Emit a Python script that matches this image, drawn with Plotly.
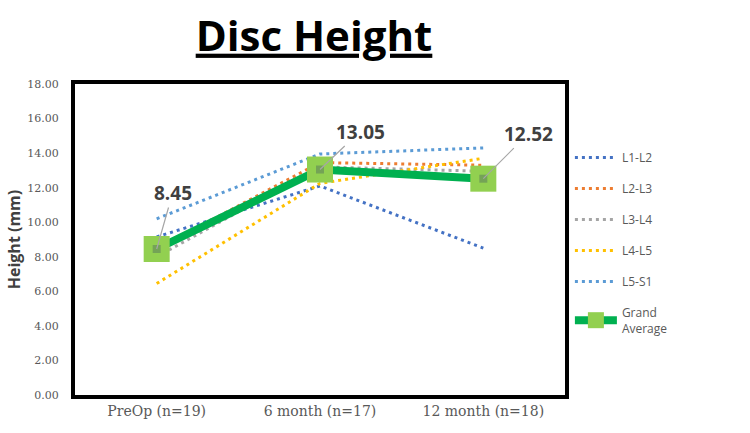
import plotly.graph_objects as go

categories = ["PreOp (n=19)", "6 month (n=17)", "12 month (n=18)"]
series_names = ["L1-L2", "L2-L3", "L3-L4", "L4-L5", "L5-S1"]
l1_l2 = [9.15, 12.1, 8.5]
l2_l3 = [8.45, 13.45, 13.3]
l3_l4 = [8.0, 13.2, 12.95]
l4_l5 = [6.45, 12.25, 13.7]
l5_s1 = [10.2, 13.95, 14.3]
grand_average = [8.45, 13.05, 12.52]
y_ticks = [0, 2, 4, 6, 8, 10, 12, 14, 16, 18]

series_values = [l1_l2, l2_l3, l3_l4, l4_l5, l5_s1]
series_colors = ["#4472C4", "#ED7D31", "#A5A5A5", "#FFC000", "#5B9BD5"]

fig = go.Figure()
for name, vals, col in zip(series_names, series_values, series_colors):
    fig.add_trace(go.Scatter(
        x=categories, y=vals, name=name, mode="lines",
        line=dict(color=col, width=3, dash="3px,4px"),
        legendgroup=name,
    ))

fig.add_trace(go.Scatter(
    x=categories, y=grand_average, name="Grand<br>Average", mode="lines+markers",
    line=dict(color="#00B050", width=8),
    marker=dict(symbol="square", size=26, color="#92D050"),
    legendgroup="ga",
))
fig.add_trace(go.Scatter(
    x=categories, y=grand_average, mode="markers", showlegend=False,
    marker=dict(symbol="square", size=8, color="#74A356"),
    hoverinfo="skip",
))

offsets = [(16, -56), (40, -38), (45, -45)]
for cat, v, (ax, ay) in zip(categories, grand_average, offsets):
    fig.add_annotation(
        x=cat, y=v, text=f"{v:.2f}", showarrow=True, arrowhead=0,
        arrowcolor="#A6A6A6", arrowwidth=1.2, ax=ax, ay=ay,
        font=dict(family="Open Sans", size=19, color="#404040", weight="bold"),
    )

fig.update_layout(
    width=750, height=433,
    margin=dict(l=75, r=185, t=84, b=38),
    paper_bgcolor="white", plot_bgcolor="white",
    title=dict(
        text="Disc Height", x=314 / 750, xanchor="center", y=1 - 36 / 433, yanchor="middle",
        font=dict(family="Open Sans", size=42, color="black", weight="bold", lineposition="under"),
    ),
    legend=dict(
        x=1.01, xanchor="left", y=0.81, yanchor="top",
        font=dict(family="Open Sans", size=12, color="#595959"),
        tracegroupgap=12, bgcolor="rgba(0,0,0,0)", itemwidth=42,
    ),
    showlegend=True,
)
fig.update_xaxes(
    type="category", range=[-0.5, 2.5],
    showline=True, linecolor="black", linewidth=4, mirror=True,
    showgrid=False, ticks="",
    tickfont=dict(family="DejaVu Serif", size=14, color="#595959"),
)
fig.update_yaxes(
    range=[0, 18], tickvals=y_ticks, tickformat=".2f",
    showline=True, linecolor="black", linewidth=4, mirror=True,
    showgrid=False, ticks="", ticklabelstandoff=10,
    tickfont=dict(family="DejaVu Serif", size=11, color="#595959"),
    title=dict(text="Height (mm)", font=dict(family="Open Sans", size=16, color="#404040", weight="bold"), standoff=4),
)

fig.write_html("out.html")
